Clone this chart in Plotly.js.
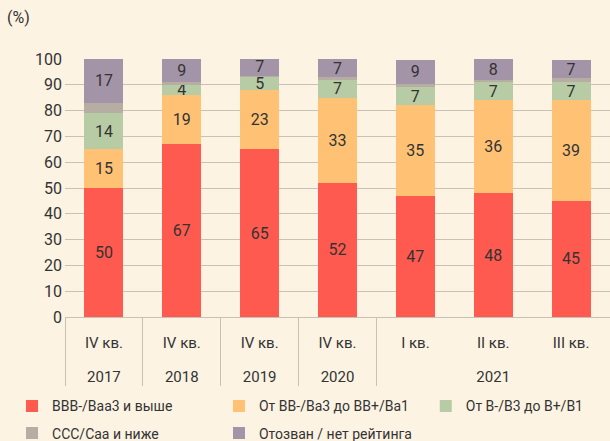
<!DOCTYPE html>
<html>
<head>
<meta charset="utf-8">
<script src="https://cdn.plot.ly/plotly-3.0.1.min.js"></script>
<style>html,body{margin:0;padding:0;background:#fdf3e3;}</style>
</head>
<body>
<div id="chart" style="width:610px;height:441px;"></div>
<script>
const years = ["2017","2018","2019","2020","2021","2021","2021"];
const quarters = ["IV кв.","IV кв.","IV кв.","IV кв.","I кв.","II кв.","III кв."];
const seriesNames = ["BBB-/Baa3 и выше","От BB-/Ba3 до BB+/Ba1","От B-/B3 до B+/B1","CCC/Caa и ниже","Отозван / нет рейтинга"];
const bbb = [50,67,65,52,47,48,45];
const bb = [15,19,23,33,35,36,39];
const b = [14,4,5,7,7,7,7];
const ccc = [4,1,0.6,1,1.5,1,1.6];
const withdrawn = [17,9,7,7,9,8,7];
const colors = ["#ff5a4f","#ffc275","#b7cca5","#b6aea2","#a494a8"];
const showLabels = [true,true,true,false,true];
const legendOf = ["legend","legend2","legend3","legend","legend2"];

// tick label styling: an invisible spacer line above the quarter labels pushes them (and the years) down
const quarterTicks = quarters.map(q => "<span style='font-size:30px'>\u00a0</span><br><span style='font-size:15px'>" + q + "</span>");
const yearTicks = years.map(y => "<span style='font-size:15px'>" + y + "</span>");

const data = [bbb,bb,b,ccc,withdrawn].map((vals,i)=>({
  type:"bar",
  name:seriesNames[i],
  legend:legendOf[i],
  legendgroup:"g"+i,
  x:[yearTicks,quarterTicks],
  y:vals,
  marker:{color:colors[i]},
  text: showLabels[i] ? vals.map(v=>String(Math.round(v))) : undefined,
  textposition: showLabels[i] ? "inside" : "none",
  insidetextanchor:"middle",
  constraintext:"none",
  textangle:0,
  textfont:{family:"Roboto, sans-serif",size:16,color:"#333333"},
  hoverinfo:"none"
}));

const legendBase = {orientation:"v",xanchor:"left",xref:"container",y:0.115,yanchor:"top",yref:"container",
  font:{size:14,color:"#333333"},traceorder:"grouped",tracegroupgap:6,itemwidth:30,bgcolor:"rgba(0,0,0,0)"};

const layout = {
  width:610,height:441,
  paper_bgcolor:"#fdf3e3",plot_bgcolor:"#fdf3e3",
  margin:{l:65,r:0,t:59,b:124,autoexpand:false},
  barmode:"stack",
  bargap:0.5,
  font:{family:"Roboto, sans-serif",color:"#333333"},
  uniformtext:{mode:"show",minsize:16},
  showlegend:true,
  legend:Object.assign({},legendBase,{x:0.0197}),
  legend2:Object.assign({},legendBase,{x:0.359}),
  legend3:Object.assign({},legendBase,{x:0.698}),
  xaxis:{type:"multicategory",range:[-0.5,6.5],showgrid:false,zeroline:false,automargin:false,
    tickfont:{size:13,color:"#333333"},showdividers:true,dividercolor:"#c9c1b6",dividerwidth:1,
    ticks:"",showline:false,tickangle:0},
  yaxis:{range:[0,100],dtick:10,tick0:0,showgrid:true,gridcolor:"#c9c1b6",gridwidth:1,automargin:false,
    zeroline:true,zerolinecolor:"#c9c1b6",tickfont:{size:16,color:"#333333"},ticks:"",
    ticklabelstandoff:2,showline:false},
  annotations:[{text:"(%)",xref:"paper",yref:"paper",x:-0.11,y:1.16,xanchor:"left",yanchor:"middle",
    showarrow:false,font:{size:16,color:"#333333"}}]
};
Plotly.newPlot("chart",data,layout,{displayModeBar:false,staticPlot:true});
</script>
</body>
</html>
